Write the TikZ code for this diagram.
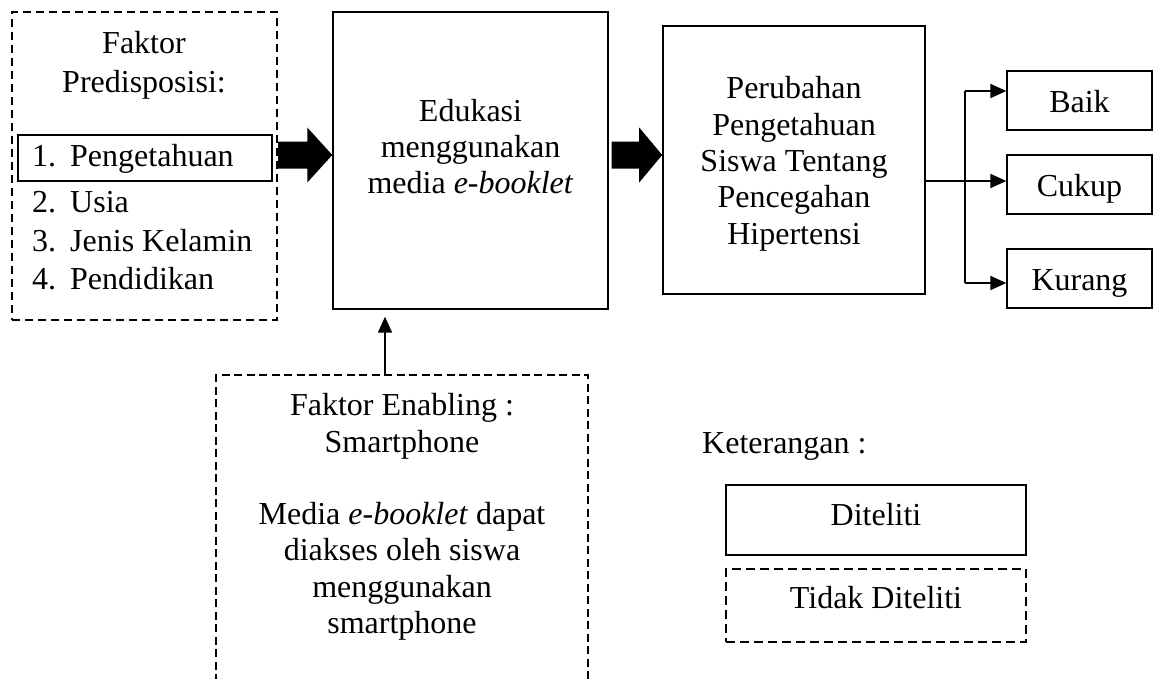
\documentclass[tikz,border=0pt]{standalone}
\usepackage{fontspec}
\setmainfont{Liberation Serif}
\usetikzlibrary{arrows.meta,calc}
\begin{document}
\begin{tikzpicture}[x=1pt,y=-1pt,
  every node/.style={font=\fontsize{32}{36.5}\selectfont, inner sep=0pt},
  txt/.style={anchor=base},
  frame/.style={draw, line width=1.4pt},
  dframe/.style={draw, line width=2.2pt, dash pattern=on 8pt off 5pt},
  result/.style={frame, minimum width=145pt, minimum height=59pt,
                 text height=23pt, text depth=0pt},
  conn/.style={line width=1.9pt},
  tip/.style={-{Triangle[length=16pt,width=14pt]}},
  fat/.style={fill=black}
]
\useasboundingbox (0,0) rectangle (1156,678);

% --- predisposing factors ---
\node[dframe, minimum width=265pt, minimum height=308pt] (pred) at (144.5,166) {};
\node[draw, line width=2pt, minimum width=254pt, minimum height=46pt] (item1) at (145,158) {};
\node[txt] (pt1) at (144,53) {Faktor};
\node[txt] (pt2) at (144,92) {Predisposisi:};
\node[txt, anchor=base west] (n1) at (32,166) {1.};
\node[txt, anchor=base west] (i1) at (70,166) {Pengetahuan};
\node[txt, anchor=base west] (n2) at (32,212) {2.};
\node[txt, anchor=base west] (i2) at (70,212) {Usia};
\node[txt, anchor=base west] (n3) at (32,251) {3.};
\node[txt, anchor=base west] (i3) at (70,251) {Jenis Kelamin};
\node[txt, anchor=base west] (n4) at (32,289) {4.};
\node[txt, anchor=base west] (i4) at (70,289) {Pendidikan};

% --- education box ---
\node[frame, minimum width=275pt, minimum height=297pt] (edu) at (470.5,160.5) {};
\node[txt] (e1) at (470.5,121) {Edukasi};
\node[txt] (e2) at (470.5,157) {menggunakan};
\node[txt] (e3) at (470.5,193) {media \textit{e-booklet}};

% --- outcome box ---
\node[draw, line width=1.6pt, minimum width=262pt, minimum height=268pt] (perub) at (794,160) {};
\node[txt] (p1) at (794,98) {Perubahan};
\node[txt] (p2) at (794,135) {Pengetahuan};
\node[txt] (p3) at (794,171) {Siswa Tentang};
\node[txt] (p4) at (794,207) {Pencegahan};
\node[txt] (p5) at (794,244) {Hipertensi};

% --- categories ---
\node[result] (baik) at (1079.5,100.5) {Baik};
\node[result] (cukup) at (1079.5,184.5) {Cukup};
\node[result] (kurang) at (1079.5,278.5) {Kurang};

% --- thick block arrows ---
\coordinate (t1) at (0,155);
\fill[fat] (pred.east |- t1) ++(0,-13.5) -- ($(edu.west |- t1)+(-25,-13.5)$) -- ++(0,-14)
  -- (edu.west |- t1) -- ++(-25,27.5) -- ++(0,-14) -- ($(pred.east |- t1)+(0,13.5)$) -- cycle;
\fill[fat] ($(edu.east |- t1)+(3,-13.5)$) -- ($(perub.west |- t1)+(-23,-13.5)$) -- ++(0,-14)
  -- (perub.west |- t1) -- ++(-23,27.5) -- ++(0,-14) -- ($(edu.east |- t1)+(3,13.5)$) -- cycle;

% --- branching to the categories ---
\coordinate (split) at (965,181);
\coordinate (btop) at (965,91);
\coordinate (bbot) at (965,283);
\draw[conn] (btop) -- (bbot);
\draw[conn, tip] (perub.east |- split) -- (cukup.west |- split);
\draw[conn, tip] (btop) -- (baik.west |- btop);
\draw[conn, tip] (bbot) -- (kurang.west |- bbot);

% --- enabling factor (open at the bottom) ---
\draw[line width=1.3pt, dash pattern=on 8pt off 4.5pt] (216,682) -- (216,375) -- (588,375) -- (588,682);
\coordinate (etop) at (385,375);
\node[txt] (f1) at (402,415) {Faktor Enabling :};
\node[txt] (f2) at (402,452) {Smartphone};
\node[txt] (f3) at (402,524) {Media \textit{e-booklet} dapat};
\node[txt] (f4) at (402,560) {diakses oleh siswa};
\node[txt] (f5) at (402,597) {menggunakan};
\node[txt] (f6) at (402,633) {smartphone};
\draw[conn, tip] (etop) -- ($(edu.south -| etop)+(0,7)$);

% --- legend ---
\node[txt, anchor=base west] (ket) at (702,453) {Keterangan :};
\node[draw, line width=2.5pt, minimum width=300pt, minimum height=70pt,
      text height=20pt, text depth=10pt] (dit) at (876,520) {Diteliti};
\node[draw, line width=2.5pt, dash pattern=on 9pt off 5pt, minimum width=300pt, minimum height=73pt,
      text height=20pt, text depth=15pt] (tdit) at (876,605.5) {Tidak Diteliti};
\end{tikzpicture}
\end{document}
